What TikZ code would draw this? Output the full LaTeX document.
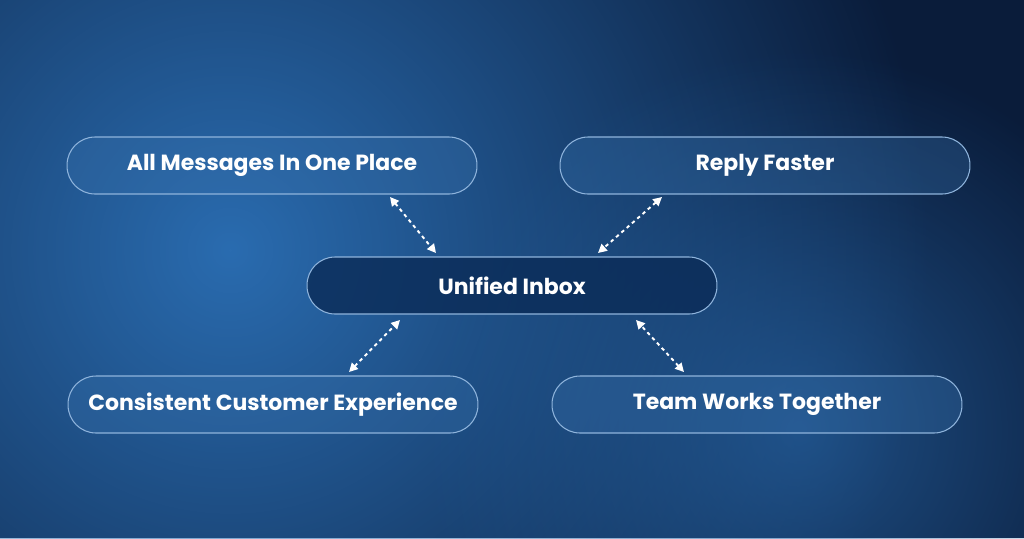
\documentclass[tikz,border=0pt]{standalone}
\usepackage{fontspec}
\setmainfont{Poppins}
\usetikzlibrary{arrows.meta,fadings}
\definecolor{bgdark}{HTML}{0A1C3A}
\definecolor{bglight}{HTML}{2A6CB0}
\definecolor{boxfill}{HTML}{3A74B0}
\definecolor{boxline}{HTML}{8FB4DC}
\definecolor{hubfill}{HTML}{0A2B57}
\tikzfading[name=glow,inner color=transparent!0,outer color=transparent!100]
\tikzset{
  box/.style={draw=boxline,line width=0.6pt,rounded corners=0.56cm,fill=boxfill,fill opacity=0.3,text opacity=1,
    text=white,minimum width=8.2cm,minimum height=1.14cm,font=\bfseries\fontsize{12.5pt}{15pt}\selectfont},
  hub/.style={box,fill=hubfill,fill opacity=0.8},
  link/.style={white,line width=1.1pt,dash pattern=on 2pt off 2pt,{Triangle[length=5pt,width=5pt]}-{Triangle[length=5pt,width=5pt]}}
}
\begin{document}
\begin{tikzpicture}[x=0.02cm,y=-0.02cm]
\fill [bgdark] (0,0) rectangle (1024,538);
\begin{scope}
\clip (0,0) rectangle (1024,538);
\fill [bglight,path fading=glow] (230,250) circle (700);
\fill [bglight!90!bgdark,path fading=glow,fill opacity=0.7] (800,430) circle (380);
\end{scope}
\node [hub] (inbox) at (512,285.5) {Unified Inbox};
\node [box] (messages) at (272,165.5) {All Messages In One Place};
\node [box] (reply) at (765,165.5) {Reply Faster};
\node [box] (consistent) at (273,404.5) {Consistent Customer Experience};
\node [box] (team) at (757,404.5) {Team Works Together};

\coordinate (m1) at (390,197); \coordinate (m2) at (436,253);
\coordinate (r1) at (662,197); \coordinate (r2) at (598,253);
\coordinate (c1) at (349,372); \coordinate (c2) at (400,320);
\coordinate (t1) at (684,372); \coordinate (t2) at (636,320);
\draw [link] (m1) -- (m2);
\draw [link] (r1) -- (r2);
\draw [link] (c1) -- (c2);
\draw [link] (t1) -- (t2);
\end{tikzpicture}
\end{document}
